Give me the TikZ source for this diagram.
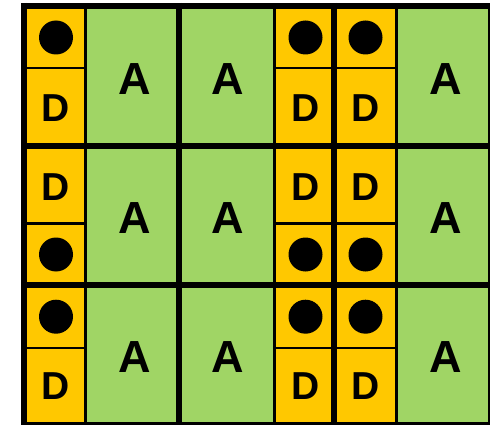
\documentclass[tikz,border=0pt]{standalone}
\usepackage{fontspec}
\setmainfont{Liberation Sans}
\begin{document}
\begin{tikzpicture}[x=1pt,y=-1pt,
  blackdot/.style={circle,fill=black,inner sep=0pt,minimum size=34pt},
  letA/.style={anchor=base,inner sep=0pt,font=\bfseries\fontsize{45}{45}\selectfont},
  letD/.style={anchor=base,inner sep=0pt,font=\bfseries\fontsize{39}{39}\selectfont},
  thinline/.style={line width=2.4pt,black},
  thickline/.style={line width=6pt,black}]
\definecolor{ylw}{RGB}{255,200,0}
\definecolor{grn}{RGB}{160,213,101}
\useasboundingbox (0,0) rectangle (490,425);
% fills
\fill[grn] (24,6) rectangle (491,425);
\fill[ylw] (24,6) rectangle (85.5,425);
\fill[ylw] (274.5,6) rectangle (396.3,425);
% thin lines
\foreach \x in {85.5,274.5,396.3} \draw[thinline] (\x,6) -- (\x,425);
\foreach \y in {67.8,223.6,347.8} {
  \draw[thinline] (24,\y) -- (85.5,\y);
  \draw[thinline] (274.5,\y) -- (396.3,\y);
}
% thick lines
\foreach \x in {24,179,334,491} \draw[thickline] (\x,3) -- (\x,428);
\foreach \y in {6,145.6,285.3,425} \draw[thickline] (21,\y) -- (494,\y);
% dots
\node[blackdot] (d11) at (56,37.5) {};
\node[blackdot] (d12) at (305.5,37.5) {};
\node[blackdot] (d13) at (365.5,37.5) {};
\node[blackdot] (d21) at (56,254.5) {};
\node[blackdot] (d22) at (305.5,254.5) {};
\node[blackdot] (d23) at (365.5,254.5) {};
\node[blackdot] (d31) at (56,316.7) {};
\node[blackdot] (d32) at (305.5,316.7) {};
\node[blackdot] (d33) at (365.5,316.7) {};
% D letters
\node[letD] (D11) at (55.5,121.5) {D};
\node[letD] (D12) at (305.8,121.5) {D};
\node[letD] (D13) at (365.8,121.5) {D};
\node[letD] (D21) at (55.5,200.7) {D};
\node[letD] (D22) at (305.8,200.7) {D};
\node[letD] (D23) at (365.8,200.7) {D};
\node[letD] (D31) at (55.5,399.5) {D};
\node[letD] (D32) at (305.8,399.5) {D};
\node[letD] (D33) at (365.8,399.5) {D};
% A letters
\node[letA] (A11) at (134.5,94.4) {A};
\node[letA] (A12) at (227.8,94.4) {A};
\node[letA] (A13) at (445.3,94.4) {A};
\node[letA] (A21) at (134.5,233.9) {A};
\node[letA] (A22) at (227.8,233.9) {A};
\node[letA] (A23) at (445.3,233.9) {A};
\node[letA] (A31) at (134.5,372.8) {A};
\node[letA] (A32) at (227.8,372.8) {A};
\node[letA] (A33) at (445.3,372.8) {A};
\end{tikzpicture}
\end{document}
